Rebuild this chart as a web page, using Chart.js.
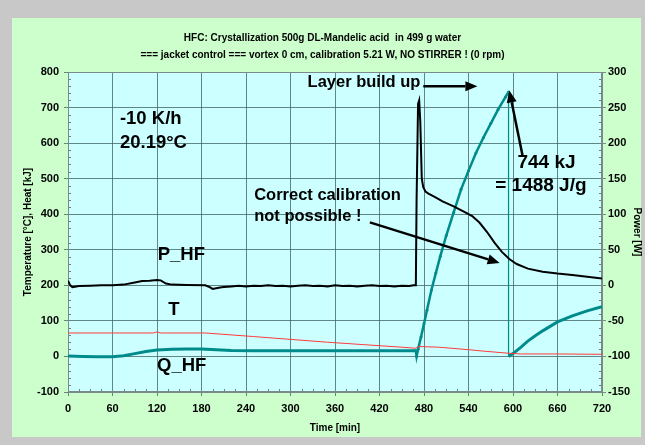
<!DOCTYPE html>
<html>
<head>
<meta charset="utf-8">
<script src="https://cdn.jsdelivr.net/npm/chart.js@4.4.0/dist/chart.umd.min.js"></script>
<style>
  html, body { margin: 0; padding: 0; background: #c8c8c8; }
  canvas { display: block; }
</style>
</head>
<body>
<canvas id="chart" width="645" height="445"></canvas>
<script>
// chart text
const titleLines = [
  'HFC: Crystallization 500g DL-Mandelic acid  in 499 g water',
  '=== jacket control === vortex 0 cm, calibration 5.21 W, NO STIRRER ! (0 rpm)'
];
const xTitle = 'Time [min]';
const yLeftTitle = 'Temperature [°C], Heat [kJ]';
const yRightTitle = 'Power [W]';

// axis ranges (ticks come from the scales)
const timeRange = [0, 720, 60];
const leftRange = [-100, 800, 100];
const rightRange = [-150, 300, 50];

// P_HF, heat flow power [W] (right axis)
const pTime = [0, 3, 6, 15, 30, 45, 60, 75, 90, 100, 110, 120, 125, 132, 140, 160, 185, 190, 195,
  205, 210, 220, 230, 240, 250, 260, 270, 280, 290, 300, 310, 320, 330, 340, 350, 360, 370, 380,
  390, 400, 410, 420, 430, 440, 450, 460, 466, 469, 470, 472, 473.5, 475, 477, 479, 482, 486,
  495, 505, 520, 535, 545, 555, 565, 575, 585, 595, 605, 620, 640, 660, 680, 700, 720];
const pPower = [6.5, 0, -2.5, -1, -0.5, 0, 0, 1, 4, 6, 6.5, 7.5, 7, 2.5, 1, 0.5, 0, -2, -5,
  -3, -2.5, -1.5, -0.5, -1.5, -0.5, -1, 0, -1, -0.5, -1.5, -0.5, 0, -1, -0.5, -1.5, 0, -1, -0.5,
  -1.5, -0.5, 0, -1, -0.5, -1.5, -0.5, -1, 0, 0, 120, 255, 260, 230, 150, 138, 132, 129,
  124, 118, 111, 103, 97.5, 88, 75, 60, 47, 37, 30, 23.5, 19, 16.5, 14.5, 12, 9.5];

// T, temperature [°C]
const tTime = [0, 60, 115, 120, 125, 185, 250, 300, 350, 400, 450, 469, 472, 500, 540, 560, 594, 610, 660, 720];
const tTemp = [66, 66, 66, 69, 66, 66, 56, 48, 40, 33, 26, 23, 28, 26, 19, 15, 9, 7, 7, 6];

// Q_HF, integrated heat [kJ]
const qTime = [0, 20, 40, 60, 75, 90, 105, 120, 140, 160, 180, 200, 220, 250, 300, 350, 400, 450, 469];
const qHeat = [1, 0, -1, -1, 2, 8, 14, 18, 20, 21, 21, 19, 17, 16, 16, 16, 16, 16, 16];
const qRiseTime = [469, 470, 472, 476, 480, 484, 490, 496, 502, 510, 520, 530, 540, 550, 560, 570, 580, 590, 594];
const qRiseHeat = [16, 0, 20, 55, 92, 130, 187, 235, 282, 340, 405, 470, 522, 572, 615, 655, 695, 730, 744];
const qDropTime = [594, 594];
const qDropHeat = [744, 0];
const qAfterTime = [594, 600, 610, 620, 630, 640, 660, 680, 700, 720];
const qAfterHeat = [0, 8, 25, 43, 58, 72, 97, 114, 128, 140];

// text notes placed in data units [time, kJ]
const notes = [
  { text: '-10 K/h', at: [70, 668], size: 18.5 },
  { text: '20.19°C', at: [70, 600], size: 18.5 },
  { text: 'Layer build up', at: [323, 771], size: 16.5 },
  { text: 'Correct calibration', at: [251, 453], size: 16.5 },
  { text: 'not possible !', at: [251, 394], size: 16.5 },
  { text: '744 kJ', at: [606, 544], size: 19 },
  { text: '= 1488 J/g', at: [576, 479], size: 19 },
  { text: 'P_HF', at: [121, 285], size: 18.5 },
  { text: 'T', at: [135, 130], size: 18.5 },
  { text: 'Q_HF', at: [120, -27], size: 18.5 }
];
const arrows = [
  { from: [479, 760], to: [552, 760] },
  { from: [407, 377], to: [582, 263] },
  { from: [613, 564], to: [595, 748] }
];

const FONT = "'Liberation Sans', Arial, sans-serif";
const pts = (xs, ys) => xs.map((x, i) => ({ x, y: ys[i] }));

const backdrop = {
  id: 'backdrop',
  beforeDraw(chart) {
    const { ctx, chartArea: a } = chart;
    ctx.save();
    ctx.fillStyle = '#c8c8c8';
    ctx.fillRect(0, 0, chart.width, chart.height);
    ctx.fillStyle = '#ccffcc';
    ctx.fillRect(12, 18, 629, 419);
    ctx.fillStyle = '#ccffff';
    ctx.fillRect(a.left, a.top, a.right - a.left, a.bottom - a.top);
    ctx.restore();
  },
  beforeDatasetsDraw(chart) {
    const { ctx, chartArea: a, scales } = chart;
    ctx.save();
    ctx.strokeStyle = '#6f8080';
    ctx.lineWidth = 1;
    ctx.beginPath();
    for (let v = leftRange[0]; v <= leftRange[1]; v += 20) {
      if (v % 100 === 0) continue;
      const y = Math.round(scales.y.getPixelForValue(v)) + 0.5;
      ctx.moveTo(a.left, y); ctx.lineTo(a.left + 3, y);
    }
    for (let v = rightRange[0]; v <= rightRange[1]; v += 10) {
      if (v % 50 === 0) continue;
      const y = Math.round(scales.y1.getPixelForValue(v)) + 0.5;
      ctx.moveTo(a.right - 3, y); ctx.lineTo(a.right, y);
    }
    for (let t = timeRange[0]; t <= timeRange[1]; t += 15) {
      if (t % 60 === 0) continue;
      const x = Math.round(scales.x.getPixelForValue(t)) + 0.5;
      ctx.moveTo(x, a.bottom); ctx.lineTo(x, a.bottom - 3);
    }
    ctx.stroke();
    ctx.strokeStyle = '#7a8a8a';
    ctx.strokeRect(a.left + 0.5, a.top + 0.5, a.right - a.left - 1, a.bottom - a.top - 1);
    ctx.restore();
  },
  afterDatasetsDraw(chart) {
    const { ctx, scales } = chart;
    const px = p => [scales.x.getPixelForValue(p[0]), scales.y.getPixelForValue(p[1])];
    ctx.save();
    ctx.fillStyle = '#000';
    ctx.textBaseline = 'middle';
    notes.forEach(n => {
      const [x, y] = px(n.at);
      ctx.font = `bold ${n.size}px ${FONT}`;
      ctx.fillText(n.text, x, y);
    });
    ctx.strokeStyle = '#000';
    ctx.lineWidth = 2.5;
    arrows.forEach(ar => {
      const [x0, y0] = px(ar.from);
      const [x1, y1] = px(ar.to);
      const ang = Math.atan2(y1 - y0, x1 - x0);
      const hl = 12, hw = 5;
      const bx = x1 - hl * Math.cos(ang), by = y1 - hl * Math.sin(ang);
      ctx.beginPath();
      ctx.moveTo(x0, y0); ctx.lineTo(bx, by);
      ctx.stroke();
      ctx.beginPath();
      ctx.moveTo(x1, y1);
      ctx.lineTo(bx + hw * Math.sin(ang), by - hw * Math.cos(ang));
      ctx.lineTo(bx - hw * Math.sin(ang), by + hw * Math.cos(ang));
      ctx.closePath();
      ctx.fill();
    });
    ctx.restore();
  }
};

Chart.defaults.font.family = FONT;
Chart.defaults.color = '#000';

const teal = '#008b8b';
const gridColor = 'rgba(60,95,95,0.75)';
const tickFont = { size: 11, weight: 'bold' };

new Chart(document.getElementById('chart'), {
  type: 'line',
  data: {
    datasets: [
      { label: 'P_HF', data: pts(pTime, pPower), yAxisID: 'y1', borderColor: '#000', borderWidth: 2, pointRadius: 0, tension: 0 },
      { label: 'T', data: pts(tTime, tTemp), yAxisID: 'y', borderColor: '#ff3b3b', borderWidth: 1, pointRadius: 0 },
      { label: 'Q_HF', data: pts(qTime, qHeat), yAxisID: 'y', borderColor: teal, borderWidth: 3, pointRadius: 0 },
      { label: 'Q_HF rise', data: pts(qRiseTime, qRiseHeat), yAxisID: 'y', borderColor: teal, borderWidth: 2.5, pointRadius: 1.5, pointBackgroundColor: teal, pointBorderWidth: 0 },
      { label: 'Q_HF reset', data: pts(qDropTime, qDropHeat), yAxisID: 'y', borderColor: teal, borderWidth: 1.2, pointRadius: 0 },
      { label: 'Q_HF after', data: pts(qAfterTime, qAfterHeat), yAxisID: 'y', borderColor: teal, borderWidth: 3, pointRadius: 0 }
    ]
  },
  options: {
    responsive: false,
    animation: false,
    parsing: false,
    layout: { padding: { top: 0, left: 0, right: 0, bottom: 0 } },
    plugins: {
      legend: { display: false },
      tooltip: { enabled: false },
      title: {
        display: true,
        text: titleLines,
        font: { size: 10, weight: 'bold', lineHeight: 1.7 },
        padding: { top: 30, bottom: 8 }
      }
    },
    scales: {
      x: {
        type: 'linear',
        min: timeRange[0], max: timeRange[1],
        ticks: { stepSize: timeRange[2], font: tickFont, padding: 6, maxRotation: 0 },
        grid: { color: gridColor, tickLength: 4 },
        border: { color: '#7a8a8a' },
        title: { display: true, text: xTitle, font: { size: 10, weight: 'bold' }, padding: { top: 0, bottom: 11 } },
        afterFit: s => { s.height = 53; }
      },
      y: {
        position: 'left',
        min: leftRange[0], max: leftRange[1],
        ticks: { stepSize: leftRange[2], font: tickFont, padding: 5 },
        grid: { color: gridColor, tickLength: 4 },
        border: { color: '#7a8a8a' },
        title: { display: true, text: yLeftTitle, font: { size: 10, weight: 'bold' }, padding: { top: 22, bottom: 0 } },
        afterFit: s => { s.width = 68; }
      },
      y1: {
        position: 'right',
        min: rightRange[0], max: rightRange[1],
        ticks: { stepSize: rightRange[2], font: tickFont, padding: 2 },
        grid: { drawOnChartArea: false, color: '#7a8a8a', tickLength: 4 },
        border: { color: '#7a8a8a' },
        title: { display: true, text: yRightTitle, font: { size: 10, weight: 'bold' }, padding: { top: 2, bottom: 0 } },
        afterFit: s => { s.width = 43; }
      }
    }
  },
  plugins: [backdrop]
});
</script>
</body>
</html>
